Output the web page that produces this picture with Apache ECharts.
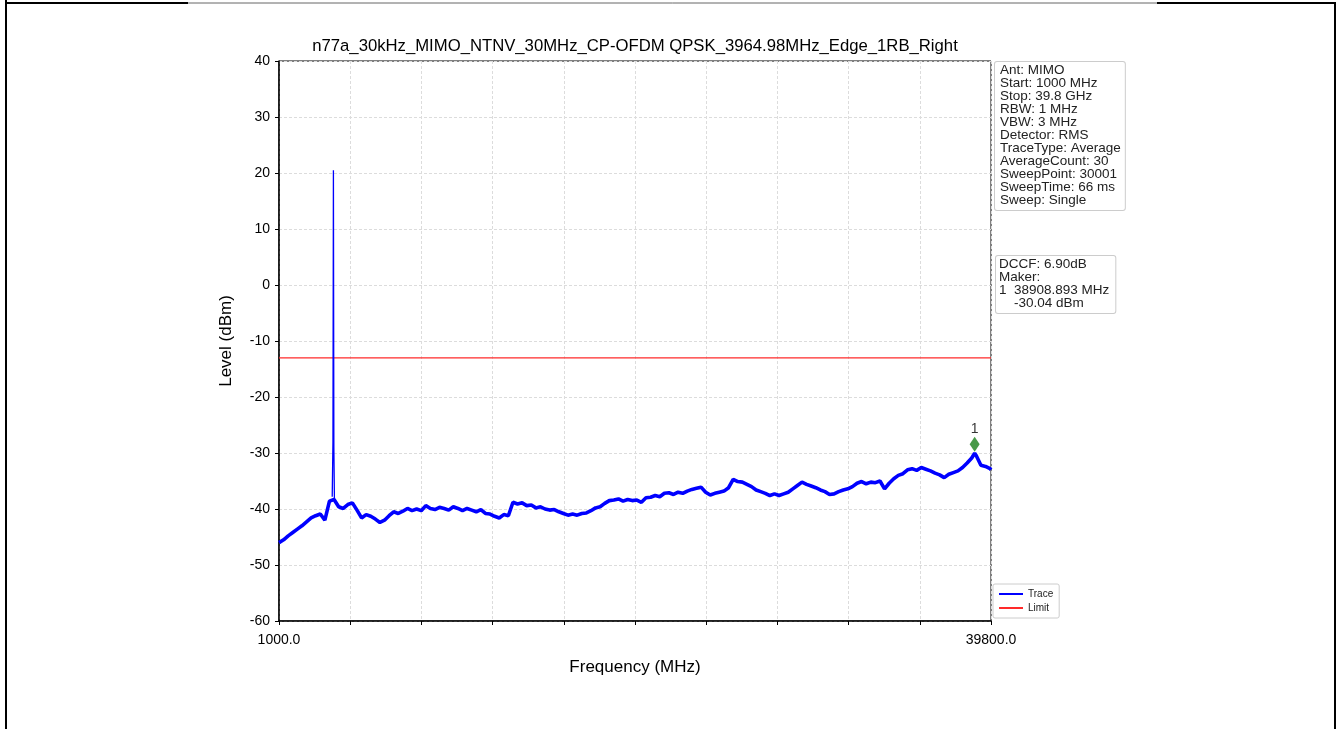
<!DOCTYPE html>
<html><head><meta charset="utf-8">
<script src="https://cdn.jsdelivr.net/npm/echarts@6/dist/echarts.min.js"></script>
<style>html,body{margin:0;padding:0;background:#fff}#c{width:1338px;height:729px}</style>
</head><body><div id="c"></div>
<script>
const chartTitle = 'n77a_30kHz_MIMO_NTNV_30MHz_CP-OFDM QPSK_3964.98MHz_Edge_1RB_Right';
const traceFreq = [1000,1250,1500,1750,2000,2250,2500,2750,3000,3250,3500,3750,4000,4250,4500,4750,5000,5250,5500,5750,
6000,6250,6500,6750,7000,7250,7500,7750,8000,8250,8500,8750,9000,9250,9500,9750,10000,10250,10500,10750,
11000,11250,11500,11750,12000,12250,12500,12750,13000,13250,13500,13750,14000,14250,14500,14750,15000,15250,15500,15750,
16000,16250,16500,16750,17000,17250,17500,17750,18000,18250,18500,18750,19000,19250,19500,19750,20000,20250,20500,20750,
21000,21250,21500,21750,22000,22250,22500,22750,23000,23250,23500,23750,24000,24250,24500,24750,25000,25250,25500,25750,
26000,26250,26500,26750,27000,27250,27500,27750,28000,28250,28500,28750,29000,29250,29500,29750,30000,30250,30500,30750,
31000,31250,31500,31750,32000,32250,32500,32750,33000,33250,33500,33750,34000,34250,34500,34750,35000,35250,35500,35750,
36000,36250,36500,36750,37000,37250,37500,37750,38000,38250,38500,38750,38908.893,39000,39250,39500,39750,39800];
const traceLevel = [-46.0,-45.5,-44.8,-44.2,-43.6,-43.0,-42.3,-41.6,-41.2,-40.9,-42.0,-38.6,-38.3,-39.6,-39.9,-39.2,-38.9,-40.2,-41.6,-41.0,
-41.3,-41.8,-42.4,-42.0,-41.2,-40.5,-40.8,-40.4,-39.9,-40.3,-40.0,-40.3,-39.4,-39.9,-40.1,-39.7,-39.9,-40.2,-39.6,-39.9,
-40.3,-39.9,-40.2,-40.5,-40.1,-40.8,-40.9,-41.3,-41.6,-41.0,-41.2,-38.8,-39.1,-38.9,-39.4,-39.3,-39.8,-39.6,-40.0,-40.2,
-40.1,-40.5,-40.8,-41.1,-40.9,-41.1,-40.8,-40.7,-40.3,-39.8,-39.6,-39.0,-38.5,-38.4,-38.2,-38.6,-38.3,-38.5,-38.4,-38.8,
-38.0,-37.9,-37.6,-37.8,-37.2,-37.1,-37.4,-37.0,-37.2,-36.8,-36.5,-36.3,-36.1,-37.0,-37.5,-37.2,-37.0,-36.8,-36.2,-34.7,
-35.1,-35.2,-35.6,-36.0,-36.6,-36.9,-37.2,-37.6,-37.3,-37.6,-37.3,-37.0,-36.4,-35.8,-35.2,-35.6,-35.9,-36.2,-36.6,-36.9,
-37.4,-37.3,-36.9,-36.6,-36.4,-36.0,-35.4,-35.1,-35.5,-35.2,-35.3,-35.0,-36.4,-35.4,-34.6,-34.0,-33.7,-33.0,-32.8,-33.1,
-32.6,-32.9,-33.2,-33.6,-33.9,-34.4,-33.8,-33.5,-33.2,-32.6,-31.8,-30.9,-30.04,-30.5,-32.2,-32.4,-32.8,-33.0];
const spikeFreq = [3900,3940,3965,3990,4020];
const spikeLevel = [-37.8,-28.0,20.5,-29.0,-38.2];
const limitFreq = [1000,39800];
const limitLevel = [-13,-13];
const markerFreq = [38908.893];
const markerLevel = [-30.04];
const markerNames = ['1'];
const xLabelValues = [1000,39800];
const infoLines = ['Ant: MIMO','Start: 1000 MHz','Stop: 39.8 GHz','RBW: 1 MHz','VBW: 3 MHz','Detector: RMS','TraceType: Average','AverageCount: 30','SweepPoint: 30001','SweepTime: 66 ms','Sweep: Single'];
const markerInfoLines = ['DCCF: 6.90dB','Maker:','1  38908.893 MHz','    -30.04 dBm'];

const zip = (a,b) => a.map((v,i)=>[v,b[i]]);
const FONT = '"Liberation Sans", Arial, sans-serif';
const chart = echarts.init(document.getElementById('c'), null, {renderer:'canvas'});
chart.setOption({
  backgroundColor:'#fff',
  animation:false,
  title:{text:chartTitle,left:635,top:38,textAlign:'center',padding:0,
    textStyle:{fontFamily:FONT,fontSize:16.7,fontWeight:'normal',color:'#000'}},
  grid:{left:279,top:61,width:712,height:560,show:true,borderColor:'#000',borderWidth:1,backgroundColor:'transparent'},
  legend:{orient:'vertical',left:993,top:584,padding:[5,6,5,6],itemGap:4,itemWidth:24,itemHeight:2,icon:'rect',
    borderColor:'#ccc',borderWidth:1,borderRadius:2,backgroundColor:'#fff',
    textStyle:{fontFamily:FONT,fontSize:10,color:'#222'},data:['Trace','Limit']},
  xAxis:{type:'value',min:1000,max:39800,interval:3880,
    name:'Frequency (MHz)',nameLocation:'middle',nameGap:38,
    nameTextStyle:{fontFamily:FONT,fontSize:17,color:'#000'},
    axisLine:{onZero:false,lineStyle:{color:'#000',width:1.5}},
    axisTick:{show:true,length:4,lineStyle:{color:'#000',width:1}},
    axisLabel:{fontFamily:FONT,fontSize:14,color:'#000',margin:12,
      formatter:v=> xLabelValues.some(x=>Math.abs(x-v)<1e-6) ? v.toFixed(1) : ''},
    splitLine:{show:true,lineStyle:{color:'#dcdcdc',width:1,type:[3,2]}}},
  yAxis:{type:'value',min:-60,max:40,interval:10,
    name:'Level (dBm)',nameLocation:'middle',nameGap:44,nameRotate:90,
    nameTextStyle:{fontFamily:FONT,fontSize:17,color:'#000'},
    axisLine:{show:true,onZero:false,lineStyle:{color:'#000',width:1.5}},
    axisTick:{show:true,length:4,lineStyle:{color:'#000',width:1}},
    axisLabel:{fontFamily:FONT,fontSize:14,color:'#000',margin:9},
    splitLine:{show:true,lineStyle:{color:'#dcdcdc',width:1,type:[3,2]}}},
  series:[
    {name:'Limit',type:'line',data:zip(limitFreq,limitLevel),symbol:'none',z:2,
      lineStyle:{color:'#ff2a2a',width:1.3},itemStyle:{color:'#ff2a2a'}},
    {name:'Trace',type:'line',data:zip(traceFreq,traceLevel),symbol:'none',z:3,
      lineStyle:{color:'#0000ff',width:3.6},itemStyle:{color:'#0000ff'}},
    {name:'Trace',type:'line',data:zip(spikeFreq,spikeLevel),symbol:'none',z:3,
      lineStyle:{color:'#0000ff',width:1.3},itemStyle:{color:'#0000ff'}},
    {name:'Marker',type:'scatter',data:zip(markerFreq,markerLevel),symbol:'diamond',symbolSize:[10,15],
      symbolOffset:[0,-9],z:5,itemStyle:{color:'#1a7f1a'},
      label:{show:true,position:'top',distance:1,formatter:p=>markerNames[p.dataIndex],
        fontFamily:FONT,fontSize:14,color:'#000'}}
  ],
  graphic:[
    {type:'text',left:994,top:61,z:10,style:{text:infoLines.join('\n'),font:'13.5px '+FONT,fill:'#222',
      lineHeight:13,backgroundColor:'#fff',borderColor:'#ccc',borderWidth:1,borderRadius:2,padding:[2,4,3,5]}},
    {type:'text',left:995,top:255,z:10,style:{text:markerInfoLines.join('\n'),font:'13.5px '+FONT,fill:'#222',
      lineHeight:13,backgroundColor:'#fff',borderColor:'#ccc',borderWidth:1,borderRadius:2,padding:[2,6,3,3]}},
    {type:'line',shape:{x1:6,y1:0,x2:6,y2:729},style:{stroke:'#000',lineWidth:2}},
    {type:'line',shape:{x1:5,y1:3,x2:188,y2:3},style:{stroke:'#000',lineWidth:2}},
    {type:'line',shape:{x1:188,y1:3,x2:1157,y2:3},style:{stroke:'#666',lineWidth:1}},
    {type:'line',shape:{x1:1157,y1:3,x2:1336,y2:3},style:{stroke:'#000',lineWidth:2}},
    {type:'line',shape:{x1:1335,y1:2,x2:1335,y2:729},style:{stroke:'#000',lineWidth:2}}
  ]
});
</script></body></html>
